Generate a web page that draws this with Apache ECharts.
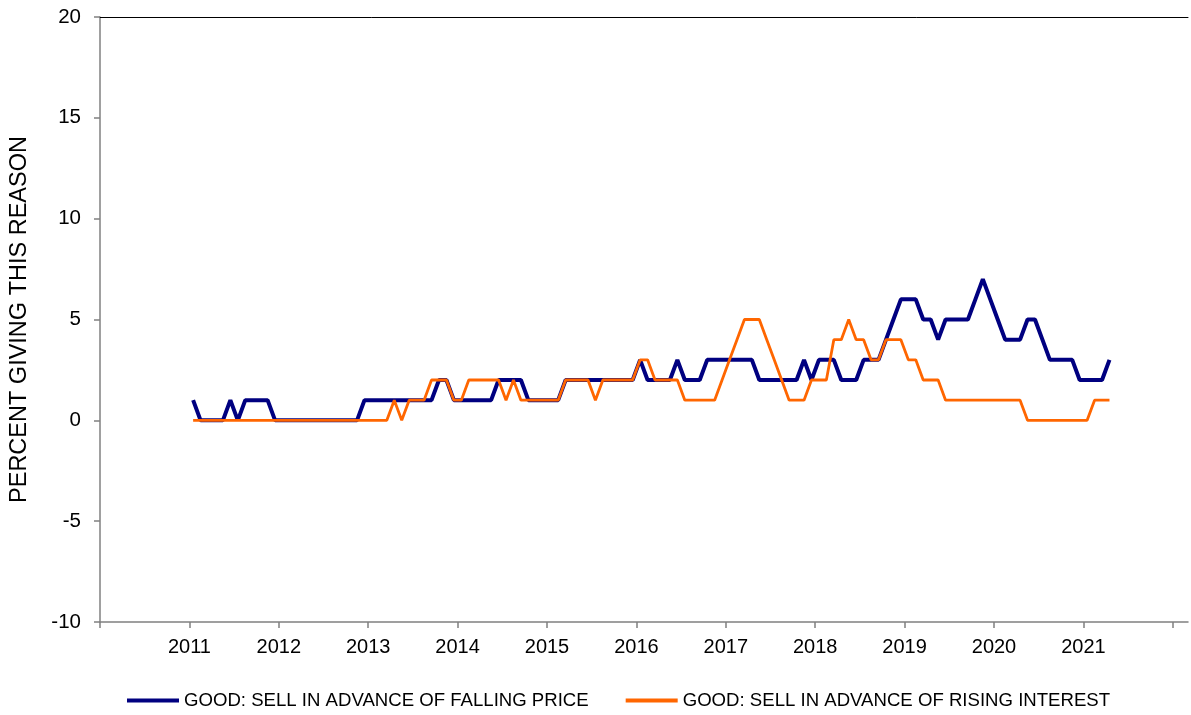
<!DOCTYPE html>
<html>
<head>
<meta charset="utf-8">
<script src="https://cdn.jsdelivr.net/npm/echarts@6/dist/echarts.min.js"></script>
<style>
  html, body { margin: 0; padding: 0; background: #ffffff; }
  #chart { width: 1191px; height: 715px; }
</style>
</head>
<body>
<div id="chart"></div>
<script>
// Monthly survey share, January 2011 through April 2021
const startYear = 2011;
const seriesNames = [
  'GOOD: SELL IN ADVANCE OF FALLING PRICE',
  'GOOD: SELL IN ADVANCE OF RISING INTEREST'
];
const fallingPrice = [
  1, 0, 0, 0, 0, 1, 0, 1, 1, 1, 1, 0,
  0, 0, 0, 0, 0, 0, 0, 0, 0, 0, 0, 1,
  1, 1, 1, 1, 1, 1, 1, 1, 1, 2, 2, 1,
  1, 1, 1, 1, 1, 2, 2, 2, 2, 1, 1, 1,
  1, 1, 2, 2, 2, 2, 2, 2, 2, 2, 2, 2,
  3, 2, 2, 2, 2, 3, 2, 2, 2, 3, 3, 3,
  3, 3, 3, 3, 2, 2, 2, 2, 2, 2, 3, 2,
  3, 3, 3, 2, 2, 2, 3, 3, 3, 4, 5, 6,
  6, 6, 5, 5, 4, 5, 5, 5, 5, 6, 7, 6,
  5, 4, 4, 4, 5, 5, 4, 3, 3, 3, 3, 2,
  2, 2, 2, 3
];
const risingInterest = [
  0, 0, 0, 0, 0, 0, 0, 0, 0, 0, 0, 0,
  0, 0, 0, 0, 0, 0, 0, 0, 0, 0, 0, 0,
  0, 0, 0, 1, 0, 1, 1, 1, 2, 2, 2, 1,
  1, 2, 2, 2, 2, 2, 1, 2, 1, 1, 1, 1,
  1, 1, 2, 2, 2, 2, 1, 2, 2, 2, 2, 2,
  3, 3, 2, 2, 2, 2, 1, 1, 1, 1, 1, 2,
  3, 4, 5, 5, 5, 4, 3, 2, 1, 1, 1, 2,
  2, 2, 4, 4, 5, 4, 4, 3, 3, 4, 4, 4,
  3, 3, 2, 2, 2, 1, 1, 1, 1, 1, 1, 1,
  1, 1, 1, 1, 0, 0, 0, 0, 0, 0, 0, 0,
  0, 1, 1, 1
];
const yearTicks = [2010, 2011, 2012, 2013, 2014, 2015, 2016, 2017, 2018, 2019, 2020, 2021, 2022];
const yearLabels = [2011, 2012, 2013, 2014, 2015, 2016, 2017, 2018, 2019, 2020, 2021];

// place each monthly reading at the middle of its month
function toPoints(values) {
  return values.map((v, i) => [startYear + (i + 0.5) / 12, v]);
}

const font = 'Liberation Sans, Arial, sans-serif';
const chart = echarts.init(document.getElementById('chart'), null, { renderer: 'canvas' });

chart.setOption({
  animation: false,
  backgroundColor: '#ffffff',
  grid: { left: 98, right: 3, top: 17, bottom: 93, containLabel: false },
  xAxis: [
    {
      type: 'value',
      min: 2010,
      max: 2022.17,
      interval: 1,
      position: 'bottom',
      axisLine: { show: true, onZero: false, lineStyle: { color: '#808080', width: 1.5 } },
      axisTick: { show: true, customValues: yearTicks, length: 6, lineStyle: { color: '#808080', width: 1.5 } },
      axisLabel: {
        customValues: yearLabels,
        formatter: v => String(v),
        color: '#000000', fontFamily: font, fontSize: 20, margin: 15
      },
      splitLine: { show: false }
    },
    {
      type: 'value',
      min: 2010,
      max: 2022.17,
      position: 'top',
      axisLine: { show: true, onZero: false, lineStyle: { color: '#000000', width: 1 } },
      axisTick: { show: false },
      axisLabel: { show: false },
      splitLine: { show: false }
    }
  ],
  yAxis: {
    type: 'value',
    min: -10,
    max: 20,
    interval: 5,
    name: 'PERCENT GIVING THIS REASON',
    nameLocation: 'middle',
    nameRotate: 90,
    nameGap: 68,
    nameTextStyle: { color: '#000000', fontFamily: font, fontSize: 23.5 },
    axisLine: { show: true, lineStyle: { color: '#808080', width: 1.5 } },
    axisTick: { show: true, length: 6, lineStyle: { color: '#808080', width: 1.5 } },
    axisLabel: { color: '#000000', fontFamily: font, fontSize: 20.5, margin: 19 },
    splitLine: { show: false }
  },
  legend: {
    left: 122,
    top: 686,
    icon: 'rect',
    itemWidth: 52,
    itemHeight: 4,
    itemGap: 37,
    textStyle: { color: '#000000', fontFamily: font, fontSize: 18.6 },
    data: seriesNames
  },
  series: [
    {
      name: seriesNames[0],
      type: 'line',
      showSymbol: false,
      data: toPoints(fallingPrice),
      color: '#000080',
      lineStyle: { color: '#000080', width: 4 }
    },
    {
      name: seriesNames[1],
      type: 'line',
      showSymbol: false,
      data: toPoints(risingInterest),
      color: '#FF6600',
      lineStyle: { color: '#FF6600', width: 2.8 }
    }
  ]
});
</script>
</body>
</html>
